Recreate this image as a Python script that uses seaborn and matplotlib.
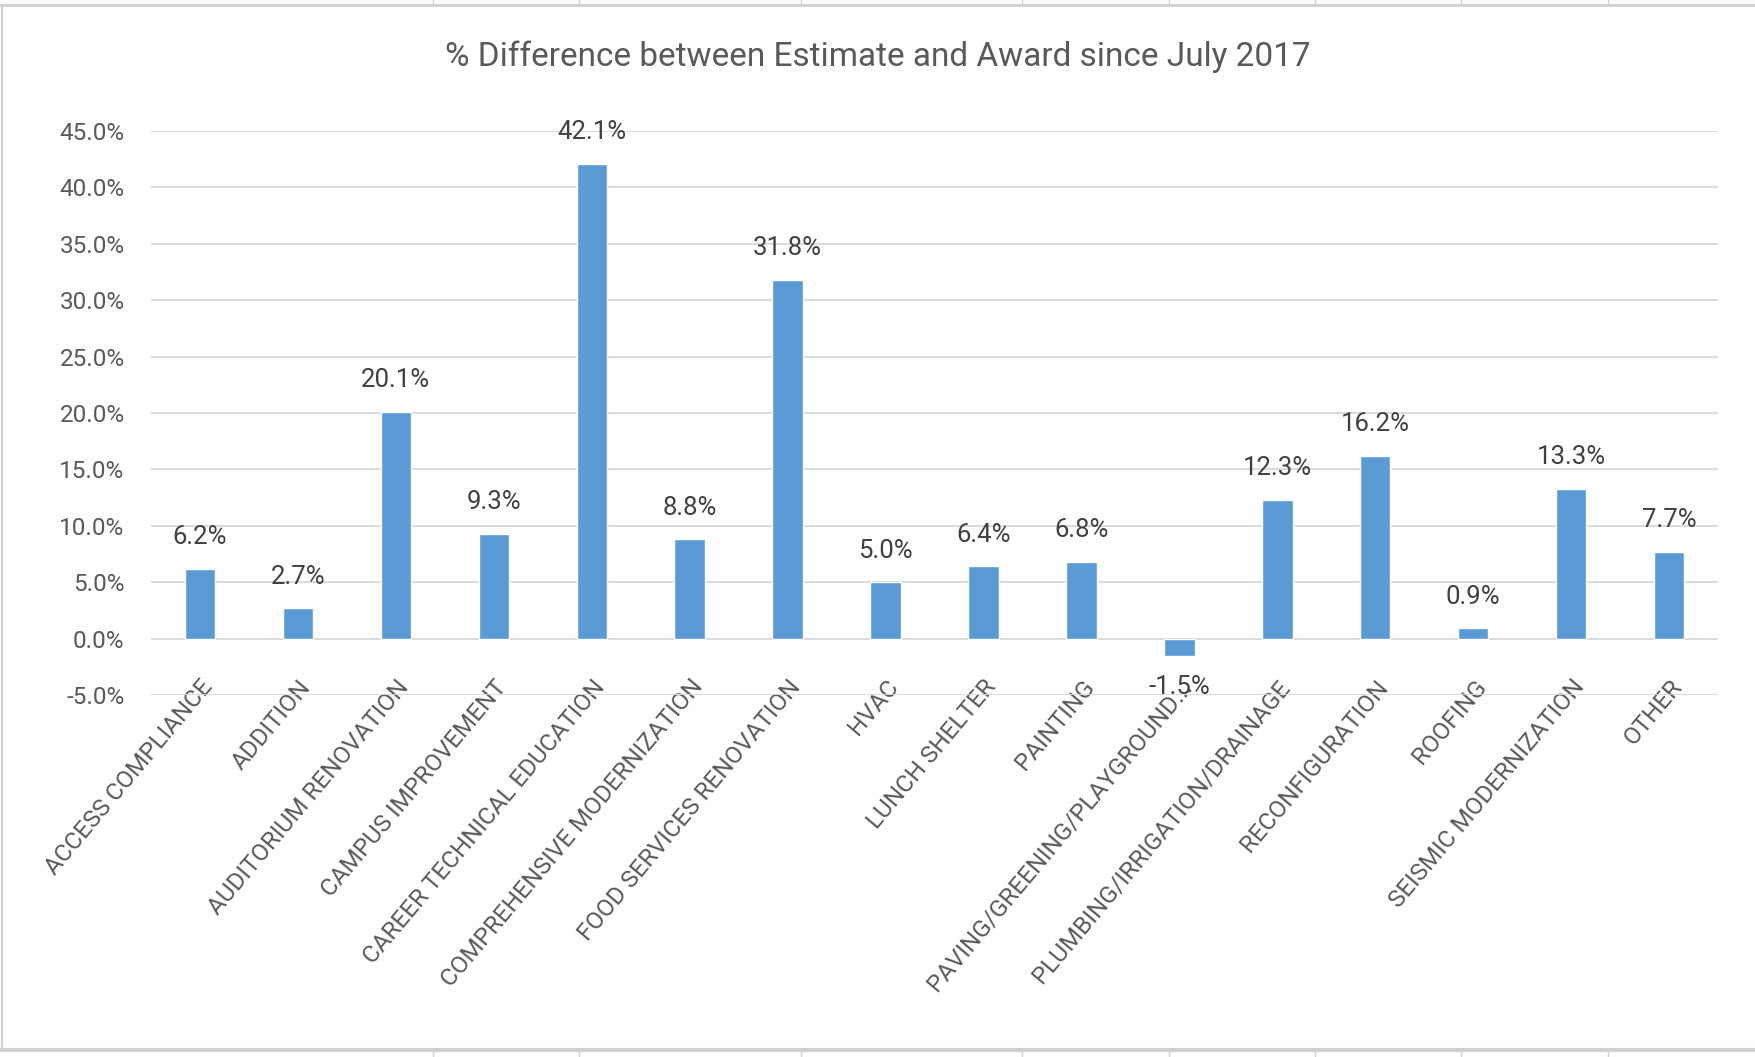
#% Difference between Estimate and Award since July 2017, by project type

import matplotlib
matplotlib.use("Agg")
import matplotlib.pyplot as plt
from matplotlib.lines import Line2D
import seaborn as sns
import pandas as pd

categories = [
    "ACCESS COMPLIANCE", "ADDITION", "AUDITORIUM RENOVATION", "CAMPUS IMPROVEMENT",
    "CAREER TECHNICAL EDUCATION", "COMPREHENSIVE MODERNIZATION", "FOOD SERVICES RENOVATION",
    "HVAC", "LUNCH SHELTER", "PAINTING", "PAVING/GREENING/PLAYGROUND...",
    "PLUMBING/IRRIGATION/DRAINAGE", "RECONFIGURATION", "ROOFING",
    "SEISMIC MODERNIZATION", "OTHER",
]
pct_diff = [6.2, 2.7, 20.1, 9.3, 42.1, 8.8, 31.8, 5.0, 6.4, 6.8, -1.5, 12.3, 16.2, 0.9, 13.3, 7.7]
y_ticks = [-5, 0, 5, 10, 15, 20, 25, 30, 35, 40, 45]

sns.set_style("white")
plt.rcParams['font.family'] = ['Roboto', 'DejaVu Sans']
text_grey = "#595959"

df = pd.DataFrame({"category": categories, "pct": pct_diff})

fig = plt.figure(figsize=(17.55, 10.57), dpi=100)
ax = fig.add_axes([0.086, 0.3425, 0.893, 0.5335])

sns.barplot(data=df, x="category", y="pct", order=categories, color="#5B9BD5",
            saturation=1, width=0.31, ax=ax)

ax.set_ylim(-5, 45)
ax.set_xlim(-0.5, len(categories) - 0.5)
ax.set_yticks(y_ticks)
ax.set_yticklabels([f"{t:.1f}%" for t in y_ticks], fontsize=17.5, color=text_grey)
ax.yaxis.grid(True, color="#d9d9d9", linewidth=1.3)
ax.set_axisbelow(True)
for s in ax.spines.values():
    s.set_visible(False)
ax.tick_params(axis="y", length=0, pad=19)
ax.tick_params(axis="x", length=0, pad=-14)
ax.set_xticks(range(len(categories)))
ax.set_xticklabels(categories, rotation=50, ha="right", va="top",
                   rotation_mode="anchor", fontsize=17.5, color=text_grey)
ax.set_xlabel("")
ax.set_ylabel("")

ax.bar_label(ax.containers[0], labels=[f"{v:.1f}%" for v in pct_diff],
             padding=14, fontsize=18.5, color="#404040")

fig.suptitle("% Difference between Estimate and Award since July 2017",
             y=1 - 57 / 1057, va="center", fontsize=24, color=text_grey)

# spreadsheet chrome around the chart
border = "#d0d0d0"
fig.add_artist(Line2D([0, 1], [1 - 5 / 1057] * 2, color=border, lw=2))
fig.add_artist(Line2D([0, 1], [1 - 1050 / 1057] * 2, color=border, lw=3))
fig.add_artist(Line2D([2 / 1755] * 2, [1 - 1050 / 1057, 1 - 5 / 1057], color=border, lw=1.5))
for cx in [433, 579, 801, 1022, 1169, 1315, 1461, 1608]:
    fig.add_artist(Line2D([cx / 1755] * 2, [1 - 5 / 1057, 1], color=border, lw=1))
    fig.add_artist(Line2D([cx / 1755] * 2, [0, 1 - 1050 / 1057], color=border, lw=1))

fig.savefig("out.png", dpi=100)
